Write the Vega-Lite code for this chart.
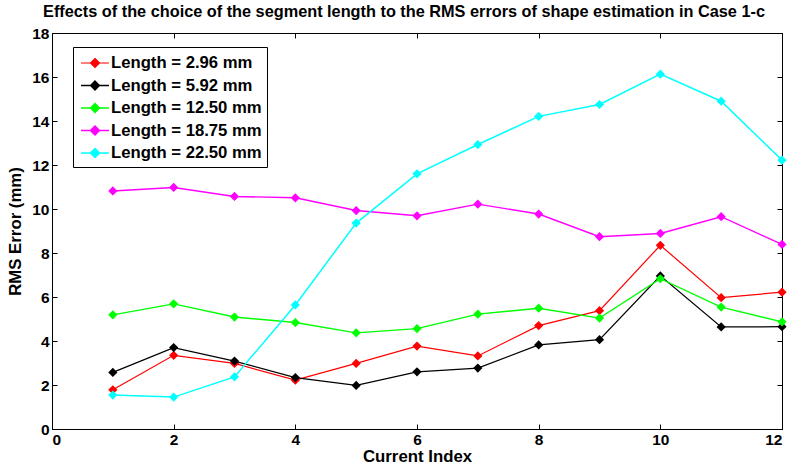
{
  "$schema": "https://vega.github.io/schema/vega-lite/v6.json",
  "autosize": {"type": "none"},
  "width": 730,
  "height": 396,
  "padding": {"left": 52, "top": 33, "right": 18, "bottom": 45},
  "background": "white",
  "title": {
    "text": "Effects of the choice of the segment length to the RMS errors of shape estimation in Case 1-c",
    "fontSize": 16.3,
    "font": "Liberation Sans",
    "fontWeight": "bold",
    "color": "black",
    "anchor": "middle",
    "dx": -13,
    "offset": 6
  },
  "config": {
    "view": {"stroke": "black", "strokeWidth": 1},
    "font": "Liberation Sans",
    "axis": {
      "grid": false,
      "domainColor": "black",
      "tickColor": "black",
      "labelColor": "black",
      "titleColor": "black",
      "labelFont": "Liberation Sans",
      "labelFontWeight": "bold",
      "labelFontSize": 15.5,
      "titleFont": "Liberation Sans",
      "titleFontWeight": "bold",
      "titleFontSize": 16.8
    }
  },
  "data": {
    "values": [
      {"idx": 1, "s": "Length = 2.96 mm", "v": 1.78},
      {"idx": 2, "s": "Length = 2.96 mm", "v": 3.35},
      {"idx": 3, "s": "Length = 2.96 mm", "v": 2.98},
      {"idx": 4, "s": "Length = 2.96 mm", "v": 2.22},
      {"idx": 5, "s": "Length = 2.96 mm", "v": 2.98},
      {"idx": 6, "s": "Length = 2.96 mm", "v": 3.77},
      {"idx": 7, "s": "Length = 2.96 mm", "v": 3.32},
      {"idx": 8, "s": "Length = 2.96 mm", "v": 4.7},
      {"idx": 9, "s": "Length = 2.96 mm", "v": 5.38},
      {"idx": 10, "s": "Length = 2.96 mm", "v": 8.35},
      {"idx": 11, "s": "Length = 2.96 mm", "v": 5.97},
      {"idx": 12, "s": "Length = 2.96 mm", "v": 6.22},
      {"idx": 1, "s": "Length = 5.92 mm", "v": 2.57},
      {"idx": 2, "s": "Length = 5.92 mm", "v": 3.7},
      {"idx": 3, "s": "Length = 5.92 mm", "v": 3.09},
      {"idx": 4, "s": "Length = 5.92 mm", "v": 2.34},
      {"idx": 5, "s": "Length = 5.92 mm", "v": 1.98},
      {"idx": 6, "s": "Length = 5.92 mm", "v": 2.6},
      {"idx": 7, "s": "Length = 5.92 mm", "v": 2.77},
      {"idx": 8, "s": "Length = 5.92 mm", "v": 3.82},
      {"idx": 9, "s": "Length = 5.92 mm", "v": 4.06},
      {"idx": 10, "s": "Length = 5.92 mm", "v": 6.96},
      {"idx": 11, "s": "Length = 5.92 mm", "v": 4.64},
      {"idx": 12, "s": "Length = 5.92 mm", "v": 4.65},
      {"idx": 1, "s": "Length = 12.50 mm", "v": 5.19},
      {"idx": 2, "s": "Length = 12.50 mm", "v": 5.69},
      {"idx": 3, "s": "Length = 12.50 mm", "v": 5.09},
      {"idx": 4, "s": "Length = 12.50 mm", "v": 4.84},
      {"idx": 5, "s": "Length = 12.50 mm", "v": 4.37},
      {"idx": 6, "s": "Length = 12.50 mm", "v": 4.56},
      {"idx": 7, "s": "Length = 12.50 mm", "v": 5.22},
      {"idx": 8, "s": "Length = 12.50 mm", "v": 5.49},
      {"idx": 9, "s": "Length = 12.50 mm", "v": 5.04},
      {"idx": 10, "s": "Length = 12.50 mm", "v": 6.83},
      {"idx": 11, "s": "Length = 12.50 mm", "v": 5.54},
      {"idx": 12, "s": "Length = 12.50 mm", "v": 4.87},
      {"idx": 1, "s": "Length = 18.75 mm", "v": 10.82},
      {"idx": 2, "s": "Length = 18.75 mm", "v": 10.98},
      {"idx": 3, "s": "Length = 18.75 mm", "v": 10.57},
      {"idx": 4, "s": "Length = 18.75 mm", "v": 10.51},
      {"idx": 5, "s": "Length = 18.75 mm", "v": 9.93},
      {"idx": 6, "s": "Length = 18.75 mm", "v": 9.69},
      {"idx": 7, "s": "Length = 18.75 mm", "v": 10.22},
      {"idx": 8, "s": "Length = 18.75 mm", "v": 9.77},
      {"idx": 9, "s": "Length = 18.75 mm", "v": 8.74},
      {"idx": 10, "s": "Length = 18.75 mm", "v": 8.89},
      {"idx": 11, "s": "Length = 18.75 mm", "v": 9.65},
      {"idx": 12, "s": "Length = 18.75 mm", "v": 8.39},
      {"idx": 1, "s": "Length = 22.50 mm", "v": 1.54},
      {"idx": 2, "s": "Length = 22.50 mm", "v": 1.45},
      {"idx": 3, "s": "Length = 22.50 mm", "v": 2.37},
      {"idx": 4, "s": "Length = 22.50 mm", "v": 5.64},
      {"idx": 5, "s": "Length = 22.50 mm", "v": 9.36},
      {"idx": 6, "s": "Length = 22.50 mm", "v": 11.6},
      {"idx": 7, "s": "Length = 22.50 mm", "v": 12.93},
      {"idx": 8, "s": "Length = 22.50 mm", "v": 14.21},
      {"idx": 9, "s": "Length = 22.50 mm", "v": 14.75},
      {"idx": 10, "s": "Length = 22.50 mm", "v": 16.13},
      {"idx": 11, "s": "Length = 22.50 mm", "v": 14.9},
      {"idx": 12, "s": "Length = 22.50 mm", "v": 12.22}
    ]
  },
  "layer": [
    {
      "mark": {"type": "line", "point": {"shape": "diamond", "filled": true, "size": 85, "opacity": 1}},
      "encoding": {
        "x": {
          "field": "idx", "type": "quantitative",
          "scale": {"domain": [0, 12], "nice": false, "zero": false},
          "axis": {"values": [0, 2, 4, 6, 8, 10, 12], "title": "Current Index", "tickSize": -5, "labelPadding": 8, "titlePadding": 1, "domain": true}
        },
        "y": {
          "field": "v", "type": "quantitative",
          "scale": {"domain": [0, 18], "nice": false},
          "axis": {"values": [0, 2, 4, 6, 8, 10, 12, 14, 16, 18], "title": "RMS Error (mm)", "tickSize": -5, "labelPadding": 8, "titlePadding": 7}
        },
        "color": {
          "field": "s", "type": "nominal",
          "sort": ["Length = 2.96 mm", "Length = 5.92 mm", "Length = 12.50 mm", "Length = 18.75 mm", "Length = 22.50 mm"],
          "scale": {
            "domain": ["Length = 2.96 mm", "Length = 5.92 mm", "Length = 12.50 mm", "Length = 18.75 mm", "Length = 22.50 mm"],
            "range": ["#ff0000", "#000000", "#00ff00", "#ff00ff", "#00ffff"]
          },
          "legend": {
            "title": null,
            "orient": "none",
            "legendX": 21,
            "legendY": 14,
            "padding": 5,
            "strokeColor": "black",
            "fillColor": "white",
            "symbolType": "M-1.4,0L1.4,0M0,-0.45L0.45,0L0,0.45L-0.45,0Z",
            "symbolSize": 400,
            "symbolStrokeWidth": 1.5,
            "symbolOffset": 6,
            "labelOffset": 5,
            "rowPadding": 2.5,
            "labelFont": "Liberation Sans",
            "labelFontWeight": "bold",
            "labelFontSize": 16.7,
            "labelColor": "black",
            "labelLimit": 300
          }
        },
        "strokeWidth": {
          "field": "s", "type": "nominal",
          "scale": {
            "domain": ["Length = 2.96 mm", "Length = 5.92 mm", "Length = 12.50 mm", "Length = 18.75 mm", "Length = 22.50 mm"],
            "range": [1.2, 1.5, 1.8, 2, 1.5]
          },
          "legend": null
        }
      }
    },
    {
      "mark": {"type": "point", "opacity": 0},
      "encoding": {
        "x": {
          "field": "idx", "type": "quantitative",
          "axis": {"orient": "top", "values": [0, 2, 4, 6, 8, 10, 12], "labels": false, "title": null, "tickSize": -5}
        },
        "y": {
          "field": "v", "type": "quantitative",
          "axis": {"orient": "right", "values": [0, 2, 4, 6, 8, 10, 12, 14, 16, 18], "labels": false, "title": null, "tickSize": -5}
        }
      }
    }
  ],
  "resolve": {"axis": {"x": "independent", "y": "independent"}}
}
